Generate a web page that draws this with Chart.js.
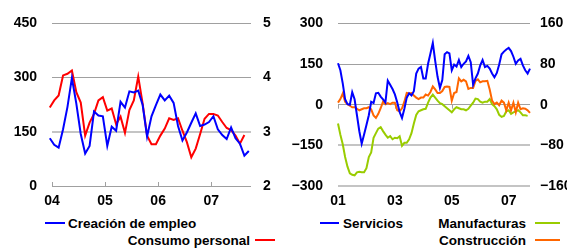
<!DOCTYPE html>
<html><head><meta charset="utf-8">
<script src="https://cdn.jsdelivr.net/npm/chart.js@4"></script>
<style>
html,body{margin:0;padding:0;background:#fff;width:567px;height:251px;overflow:hidden;position:relative;font-family:"Liberation Sans",Arial,sans-serif;}
#c1{position:absolute;left:0;top:0;}
#c2{position:absolute;left:280px;top:0;}
.lg{position:absolute;font-size:13.5px;font-weight:bold;color:#000;white-space:nowrap;line-height:16px;height:16px;}
.sw{display:inline-block;height:2px;vertical-align:middle;position:relative;top:-1px;}
</style></head><body>
<canvas id="c1" width="290" height="215"></canvas>
<canvas id="c2" width="287" height="215"></canvas>
<div id="legends"></div>
<script>
// ---------- DATA ----------
// Left panel: monthly, starting Nov 2003
const leftStart = [2003, 11];
const empleo = [106,132,114,106,157,219,299,228,144,90,111,206,195,193,111,164,153,233,217,262,259,264,224,137,193,224,253,237,250,230,166,126,148,175,201,166,170,177,193,157,141,130,162,132,117,84,97];
const consumo = [3.60,3.45,3.58,3.67,4.04,4.07,4.13,3.73,3.54,2.93,3.17,3.33,3.58,3.64,3.39,3.43,3.14,3.28,2.98,3.40,3.58,4.02,3.52,2.93,2.77,2.77,2.93,3.06,3.25,3.22,3.25,3.02,2.81,2.53,2.69,2.96,3.24,3.33,3.33,3.30,3.18,3.07,3.03,2.93,2.78,2.94];
const leftXTickYears = [2004, 2005, 2006, 2007];
const leftXTickLabels = ['04', '05', '06', '07'];
const leftYTicks = [0, 150, 300, 450];
const leftY2Ticks = [2, 3, 4, 5];

// Right panel: monthly, starting Jan 2001
const rightStart = [2001, 1];
const servicios = [153,127,79,20,2,0,46,20,-39,-98,-144,-110,-75,-39,11,6,42,44,30,20,8,89,74,58,38,8,-27,-49,-15,26,42,34,50,115,133,139,97,97,151,189,228,162,103,62,91,186,194,189,127,148,141,165,139,151,160,180,157,74,97,115,145,165,139,143,133,115,101,117,148,186,196,204,210,198,177,151,163,169,145,127,115,133];
const manufacturas = [-37,-59,-78,-103,-122,-135,-138,-139,-133,-132,-133,-133,-125,-103,-94,-65,-56,-47,-44,-52,-59,-65,-62,-68,-65,-66,-62,-81,-75,-75,-68,-56,-37,-20,-13,-11,-9,-8,4,14,20,14,8,3,1,-3,-7,-11,-15,-9,-5,-7,-9,-9,-11,-8,-2,4,12,11,6,4,6,6,11,1,-3,-9,-20,-24,-22,-13,-11,-18,-15,-13,-11,-15,-21,-21,-22];
const construccion = [4,11,22,6,1,-2,-5,-5,-8,-11,-9,-7,-7,-5,-9,-21,-26,-18,-7,6,1,3,1,4,4,-11,-13,-7,6,23,22,23,18,14,11,14,14,20,18,25,36,30,23,23,27,35,36,35,8,23,25,52,46,49,46,31,33,33,47,50,44,46,46,47,30,8,1,4,-1,8,4,-11,4,-11,4,-15,4,-9,-7,-8,-11,-16];
const rightXTickYears = [2001, 2003, 2005, 2007];
const rightXTickLabels = ['01', '03', '05', '07'];
const rightYTicks = [-300, -150, 0, 150, 300];
const rightY2Ticks = [-160, -80, 0, 80, 160];

const seriesNames = {
  empleo: 'Creación de empleo', consumo: 'Consumo personal',
  servicios: 'Servicios', manufacturas: 'Manufacturas', construccion: 'Construcción'
};
const colors = { empleo:'#0000ff', consumo:'#ff0000', servicios:'#0000ff', manufacturas:'#99cc00', construccion:'#ff6600' };

// ---------- HELPERS ----------
// months since January of base year; offset places a point inside its month
function toPoints(values, start, baseYear, offset) {
  return values.map((v, i) => ({ x: (start[0] - baseYear) * 12 + (start[1] - 1) + i + offset, y: v }));
}
const fmt = v => v < 0 ? '\u2212' + Math.abs(v) : String(v);
const FONT = { family: '"Liberation Sans", Arial, sans-serif', size: 14, weight: 'bold' };

const tickMarks = {
  id: 'tickMarks',
  beforeDatasetsDraw(chart, args, opts) {
    const x = chart.scales.x, y = chart.scales.y, ctx = chart.ctx;
    const yp = y.getPixelForValue(opts.at);
    ctx.save();
    ctx.strokeStyle = opts.color; ctx.lineWidth = 1;
    x.ticks.forEach(t => {
      const px = Math.round(x.getPixelForValue(t.value)) + 0.5;
      ctx.beginPath(); ctx.moveTo(px, yp); ctx.lineTo(px, yp + opts.len); ctx.stroke();
    });
    ctx.restore();
  }
};

function makeChart(id, cfg) {
  return new Chart(document.getElementById(id), {
    type: 'line',
    data: { datasets: cfg.datasets.map(d => ({
      label: d.label, data: d.data, yAxisID: d.axis, borderColor: d.color,
      borderWidth: 2, pointRadius: 0, tension: 0, fill: false, clip: false
    })) },
    options: {
      responsive: false, animation: false, devicePixelRatio: 1,
      layout: { padding: { top: 17, left: 0, right: 0, bottom: 0 } },
      plugins: { legend: { display: false }, tooltip: { enabled: false }, tickMarks: cfg.tickMarks },
      scales: {
        x: {
          type: 'linear', min: cfg.xMin, max: cfg.xMax,
          afterBuildTicks: s => { s.ticks = cfg.xTicks.map(v => ({ value: v })); },
          afterFit: s => { s.height = cfg.xHeight; },
          grid: { display: false, drawTicks: false }, border: { display: false },
          ticks: { font: FONT, color: '#000', padding: 7, maxRotation: 0, autoSkip: false,
            callback: (v) => cfg.xLabels[cfg.xTicks.indexOf(v)] }
        },
        y: {
          position: 'left', min: cfg.yTicks[0], max: cfg.yTicks[cfg.yTicks.length - 1],
          afterBuildTicks: s => { s.ticks = cfg.yTicks.map(v => ({ value: v })); },
          afterFit: s => { s.width = cfg.yWidth; },
          border: { display: false },
          grid: { drawTicks: false, color: c => cfg.gridColor(c.tick.value), lineWidth: c => cfg.gridWidth(c.tick.value) },
          ticks: { font: FONT, color: '#000', padding: cfg.yPad, callback: fmt }
        },
        y2: {
          position: 'right', min: cfg.y2Ticks[0], max: cfg.y2Ticks[cfg.y2Ticks.length - 1],
          afterBuildTicks: s => { s.ticks = cfg.y2Ticks.map(v => ({ value: v })); },
          afterFit: s => { s.width = cfg.y2Width; },
          border: { display: false },
          grid: { display: false, drawTicks: false },
          ticks: { font: FONT, color: '#000', padding: cfg.y2Pad, callback: fmt }
        }
      }
    },
    plugins: [tickMarks]
  });
}

// ---------- LEFT CHART ----------
makeChart('c1', {
  datasets: [
    { label: seriesNames.empleo, data: toPoints(empleo, leftStart, 2004, 0.5), axis: 'y', color: colors.empleo },
    { label: seriesNames.consumo, data: toPoints(consumo, leftStart, 2004, 0.5), axis: 'y2', color: colors.consumo }
  ],
  xMin: 0, xMax: 45,
  xTicks: leftXTickYears.map(y => (y - 2004) * 12), xLabels: leftXTickLabels,
  yTicks: leftYTicks, y2Ticks: leftY2Ticks,
  xHeight: 29, yWidth: 52, y2Width: 39, yPad: 15, y2Pad: 12,
  gridColor: v => v === 150 ? '#c4c4c4' : '#a0a0a0',
  gridWidth: v => v === 150 ? 2 : 1,
  tickMarks: { at: 0, len: -4, color: '#a0a0a0' }
});

// ---------- RIGHT CHART ----------
makeChart('c2', {
  datasets: [
    { label: seriesNames.servicios, data: toPoints(servicios, rightStart, 2001, 0), axis: 'y', color: colors.servicios },
    { label: seriesNames.construccion, data: toPoints(construccion, rightStart, 2001, 0), axis: 'y2', color: colors.construccion },
    { label: seriesNames.manufacturas, data: toPoints(manufacturas, rightStart, 2001, 0), axis: 'y2', color: colors.manufacturas }
  ],
  xMin: 0, xMax: 81,
  xTicks: rightXTickYears.map(y => (y - 2001) * 12), xLabels: rightXTickLabels,
  yTicks: rightYTicks, y2Ticks: rightY2Ticks,
  xHeight: 29, yWidth: 58, y2Width: 37, yPad: 15, y2Pad: 10,
  gridColor: v => v < 0 ? '#c4c4c4' : '#a0a0a0',
  gridWidth: v => v < 0 ? 2 : 1,
  tickMarks: { at: 0, len: 4, color: '#a0a0a0' }
});

// ---------- LEGENDS ----------
const legendItems = [
  { key: 'empleo', left: 45, top: 216, side: 'left', sw: 20, gap: 3 },
  { key: 'consumo', right: 292, top: 233, side: 'right', sw: 20, gap: 5 },
  { key: 'servicios', left: 320, top: 216, side: 'left', sw: 19, gap: 4 },
  { key: 'manufacturas', right: 7, top: 216, side: 'right', sw: 25, gap: 9 },
  { key: 'construccion', right: 7, top: 233, side: 'right', sw: 25, gap: 9 }
];
const host = document.getElementById('legends');
legendItems.forEach(it => {
  const d = document.createElement('div');
  d.className = 'lg';
  d.style.top = it.top + 'px';
  if (it.side === 'left') d.style.left = it.left + 'px'; else d.style.right = it.right + 'px';
  const sw = `<span class="sw" style="width:${it.sw}px;background:${colors[it.key]};"></span>`;
  const tx = `<span>${seriesNames[it.key]}</span>`;
  d.innerHTML = it.side === 'left'
    ? sw + `<span style="display:inline-block;width:${it.gap}px"></span>` + tx
    : tx + `<span style="display:inline-block;width:${it.gap}px"></span>` + sw;
  host.appendChild(d);
});
</script>
</body></html>
